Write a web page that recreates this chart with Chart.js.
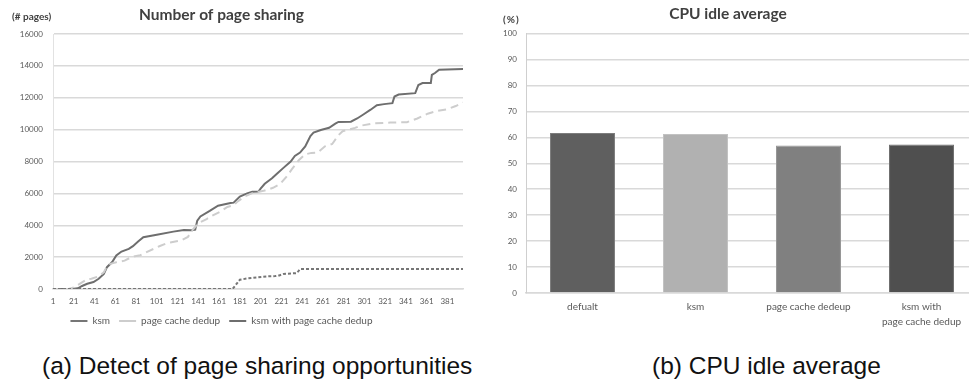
<!DOCTYPE html>
<html>
<head>
<meta charset="utf-8">
<script src="https://cdn.jsdelivr.net/npm/chart.js@4/dist/chart.umd.min.js"></script>
<style>
  html, body { margin: 0; padding: 0; background: #ffffff; }
  body { width: 969px; height: 381px; position: relative; overflow: hidden; }
  .box { position: absolute; }
  .unit { position: absolute; font-family: Lato, sans-serif; font-weight: bold; font-size: 10px; color: #404040; white-space: nowrap; }
  .caption { position: absolute; font-family: "Liberation Sans", Arial, sans-serif; font-size: 24.5px; color: #111111; white-space: nowrap; }
</style>
</head>
<body>
<div class="box" style="left:-20px; top:0; width:486px; height:336px;"><canvas id="sharing" width="486" height="336"></canvas></div>
<div class="box" style="left:478px; top:0; width:500px; height:335px;"><canvas id="idle" width="500" height="335"></canvas></div>
<div class="unit" style="left:12px; top:10px;">(# pages)</div>
<div class="unit" style="left:503px; top:13px; letter-spacing:1px;">(%)</div>
<div class="caption" style="left:42px; top:352px;">(a) Detect of page sharing opportunities</div>
<div class="caption" style="left:652px; top:352px;">(b) CPU idle average</div>
<script>
// Page sharing samples: sample index and number of shared pages
const ksmIdx   = [1, 174, 181, 188, 197, 207, 215, 219, 223, 236, 239, 396];
const ksmPages = [0, 0, 580, 660, 720, 790, 810, 850, 940, 1000, 1250, 1250];

const cacheIdx   = [1, 16, 22, 29, 34, 38, 45, 50, 53, 56, 62, 70, 75, 80, 85, 90, 98, 104, 111, 114, 120, 125, 131, 136, 141, 149, 155, 162, 169, 175, 179, 186, 194, 204, 213, 220, 226, 231, 238, 244, 250, 256, 263, 270, 276, 280, 286, 292, 297, 310, 326, 342, 352, 362, 371, 381, 389, 396];
const cachePages = [0, 0, 120, 420, 620, 640, 800, 1050, 1420, 1580, 1680, 1780, 1950, 2060, 2120, 2280, 2520, 2700, 2880, 2920, 3000, 3060, 3270, 3750, 4120, 4390, 4620, 4850, 5150, 5250, 5500, 5820, 6040, 6160, 6350, 6600, 7050, 7500, 8100, 8450, 8540, 8560, 8950, 9100, 9650, 9900, 10000, 10110, 10240, 10400, 10440, 10470, 10700, 11000, 11170, 11280, 11480, 11700];

const bothIdx   = [1, 19, 25, 29, 34, 40, 45, 50, 53, 58, 62, 67, 74, 78, 83, 88, 101, 117, 127, 135, 138, 140, 143, 152, 160, 172, 175, 181, 188, 193, 199, 201, 205, 212, 217, 223, 230, 234, 239, 244, 249, 252, 259, 267, 273, 276, 288, 294, 300, 307, 313, 320, 328, 330, 334, 350, 353, 357, 365, 366, 369, 373, 396];
const bothPages = [0, 0, 40, 190, 330, 440, 640, 950, 1370, 1690, 2100, 2350, 2520, 2690, 2980, 3250, 3400, 3600, 3700, 3680, 3720, 4290, 4550, 4900, 5230, 5390, 5420, 5800, 6000, 6100, 6120, 6300, 6600, 6950, 7250, 7600, 8000, 8350, 8560, 8950, 9600, 9810, 9980, 10120, 10380, 10480, 10500, 10700, 10950, 11250, 11530, 11600, 11660, 12080, 12200, 12290, 12800, 12920, 12930, 13430, 13550, 13760, 13800];

const sampleTicks = [1, 21, 41, 61, 81, 101, 121, 141, 161, 181, 201, 221, 241, 261, 281, 301, 321, 341, 361, 381];

// CPU idle average per configuration (%)
const configs = ['defualt', 'ksm', 'page cache dedeup', ['ksm with', 'page cache dedup']];
const idlePct = [61.7, 61.3, 56.8, 57.2];
const idleColors = ['#5f5f5f', '#b1b1b1', '#808080', '#4f4f4f'];
const idleBorders = ['#7d7d7d', '#c2c2c2', '#959595', '#6e6e6e'];

const tickFont = { family: 'Lato', size: 8 };
const titleFont = { family: 'Lato', size: 15.5, weight: 'bold' };
const gridColor = '#d9d9d9';
const textColor = '#595959';

function points(xs, ys) { return xs.map((x, i) => ({ x: x, y: ys[i] })); }

new Chart(document.getElementById('sharing'), {
  type: 'line',
  data: {
    datasets: [
      { label: 'ksm', data: points(ksmIdx, ksmPages), borderColor: '#767676', borderWidth: 2, borderDash: [3, 2], pointRadius: 0, pointStyle: 'line', tension: 0 },
      { label: 'page cache dedup', data: points(cacheIdx, cachePages), borderColor: '#cdcdcd', borderWidth: 2, borderDash: [8, 5], pointRadius: 0, pointStyle: 'line', tension: 0 },
      { label: 'ksm with page cache dedup', data: points(bothIdx, bothPages), borderColor: '#6e6e6e', borderWidth: 2, pointRadius: 0, pointStyle: 'line', tension: 0 }
    ]
  },
  options: {
    responsive: false,
    animation: false,
    layout: { padding: { right: 3 } },
    plugins: {
      title: { display: true, text: 'Number of page sharing', color: '#404040', font: titleFont, padding: { top: 5.7, bottom: 9.7 } },
      legend: {
        position: 'bottom',
        labels: { usePointStyle: true, pointStyleWidth: 17, padding: 9, color: textColor, font: { family: 'Lato', size: 10 } }
      },
      tooltip: { enabled: false }
    },
    scales: {
      x: {
        type: 'linear', min: 1, max: 396,
        afterBuildTicks: s => { s.ticks = sampleTicks.map(v => ({ value: v })); },
        afterFit: s => { s.height = 18; },
        grid: { display: false, drawTicks: false },
        border: { display: true, color: gridColor, width: 1.5 },
        ticks: { font: tickFont, color: textColor, padding: 8, maxRotation: 0, autoSkip: false }
      },
      y: {
        min: 0, max: 16000,
        afterFit: s => { s.width = 73; },
        grid: { color: gridColor, lineWidth: 1.5, drawTicks: false },
        border: { display: true, color: '#e2e2e2', width: 1 },
        ticks: { stepSize: 2000, font: tickFont, color: textColor, padding: 10, callback: v => String(v) }
      }
    }
  }
});

new Chart(document.getElementById('idle'), {
  type: 'bar',
  data: {
    labels: configs,
    datasets: [{ label: 'CPU idle', data: idlePct, backgroundColor: idleColors, borderColor: idleBorders, borderWidth: 1, barPercentage: 0.575, categoryPercentage: 1 }]
  },
  options: {
    responsive: false,
    animation: false,
    plugins: {
      title: { display: true, text: 'CPU idle average', color: '#404040', font: titleFont, padding: { top: 4.5, bottom: 10.4 } },
      legend: { display: false },
      tooltip: { enabled: false }
    },
    scales: {
      x: {
        afterFit: s => { s.height = 42; },
        grid: { display: false, drawTicks: false },
        border: { display: true, color: gridColor, width: 1.5 },
        ticks: { font: { family: 'Lato', size: 10, lineHeight: 1.5 }, color: textColor, padding: 6, maxRotation: 0, autoSkip: false }
      },
      y: {
        min: 0, max: 100,
        afterFit: s => { s.width = 48; },
        grid: { color: gridColor, lineWidth: 1.5, drawTicks: false },
        border: { display: true, color: '#cfcfcf', width: 1 },
        ticks: { stepSize: 10, font: tickFont, color: textColor, padding: 9 }
      }
    }
  }
});
</script>
</body>
</html>
